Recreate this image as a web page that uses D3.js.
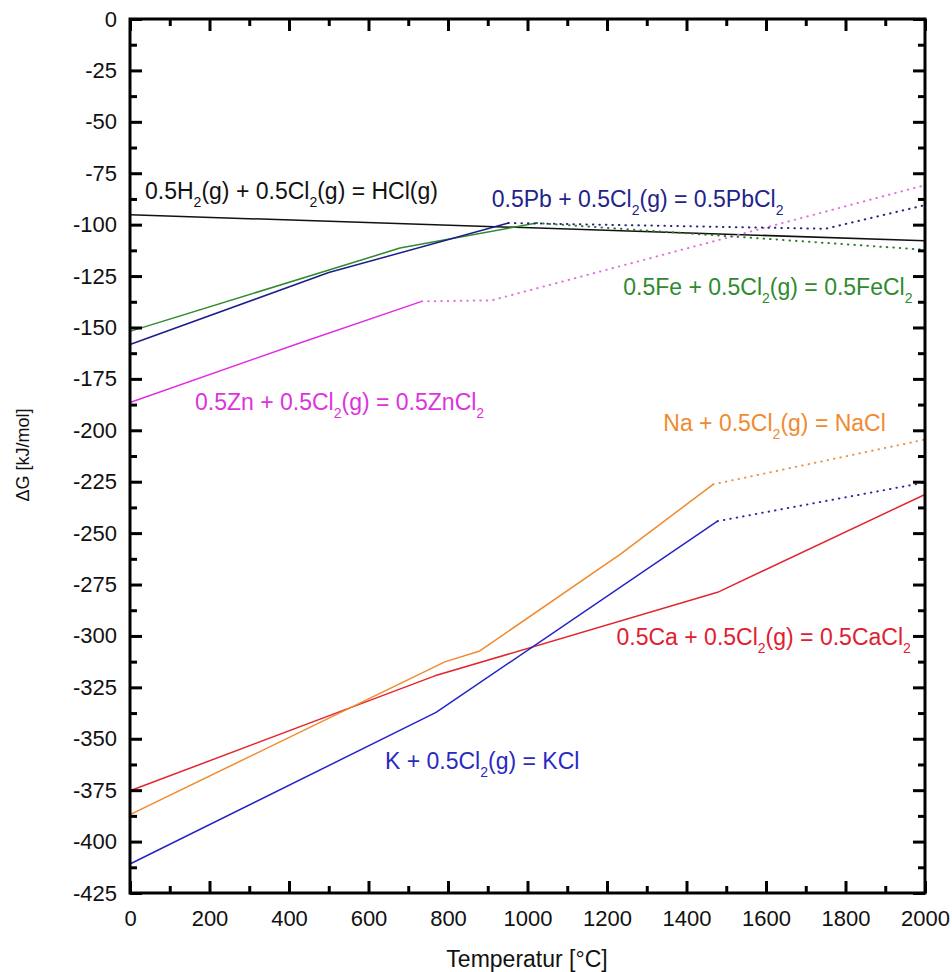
<!DOCTYPE html>
<html><head><meta charset="utf-8">
<script src="https://cdn.jsdelivr.net/npm/d3@7/dist/d3.min.js"></script>
<style>
body{margin:0;background:#fff}
svg{display:block}
text{font-family:"Liberation Sans",Arial,Helvetica,sans-serif}
</style>
</head><body>
<svg id="chart" width="952" height="972"></svg>
<script>
// ---- data ----
const xTickValues = [0,200,400,600,800,1000,1200,1400,1600,1800,2000];
const xTickLabels = ["0","200","400","600","800","1000","1200","1400","1600","1800","2000"];
const xMinorValues = [100,300,500,700,900,1100,1300,1500,1700,1900];
const yTickValues = [0,-25,-50,-75,-100,-125,-150,-175,-200,-225,-250,-275,-300,-325,-350,-375,-400,-425];
const yTickLabels = ["0","-25","-50","-75","-100","-125","-150","-175","-200","-225","-250","-275","-300","-325","-350","-375","-400","-425"];
const yMinorValues = [-12.5,-37.5,-62.5,-87.5,-112.5,-137.5,-162.5,-187.5,-212.5,-237.5,-262.5,-287.5,-312.5,-337.5,-362.5,-387.5,-412.5];

// HCl
const hclT = [0, 2000];
const hclG = [-95.2, -107.8];
// PbCl2
const pbT = [0, 500, 952];
const pbG = [-158.3, -123.3, -99.2];
const pbDotT = [952, 1750, 2000];
const pbDotG = [-99.2, -102.0, -90.5];
// FeCl2
const feT = [0, 679, 1023];
const feG = [-151.9, -111.4, -99.2];
const feDotT = [1023, 2000];
const feDotG = [-99.2, -112.2];
// ZnCl2
const znT = [0, 420, 734];
const znG = [-186.5, -158.0, -137.3];
const znDotT = [734, 910, 2000];
const znDotG = [-137.3, -136.8, -80.8];
// NaCl
const naT = [0, 792, 880, 1233, 1467];
const naG = [-386.9, -312.6, -307.3, -260.3, -226.3];
const naDotT = [1467, 2000];
const naDotG = [-226.3, -204.5];
// KCl
const kT = [0, 770, 1478];
const kG = [-410.9, -337.2, -244.2];
const kDotT = [1478, 2000];
const kDotG = [-244.2, -225.4];
// CaCl2
const caT = [0, 767, 1478, 2000];
const caG = [-375.3, -319.4, -278.8, -231.2];

// labels: segments [text, isSubscript], anchor in data coords
const labelHCl = [["0.5H",0],["2",1],["(g) + 0.5Cl",0],["2",1],["(g) = HCl(g)",0]];
const labelPb  = [["0.5Pb + 0.5Cl",0],["2",1],["(g) = 0.5PbCl",0],["2",1]];
const labelFe  = [["0.5Fe + 0.5Cl",0],["2",1],["(g) = 0.5FeCl",0],["2",1]];
const labelZn  = [["0.5Zn + 0.5Cl",0],["2",1],["(g) = 0.5ZnCl",0],["2",1]];
const labelNa  = [["Na + 0.5Cl",0],["2",1],["(g) = NaCl",0]];
const labelCa  = [["0.5Ca + 0.5Cl",0],["2",1],["(g) = 0.5CaCl",0],["2",1]];
const labelK   = [["K + 0.5Cl",0],["2",1],["(g) = KCl",0]];
const labelAnchorT = [37.7, 910, 1241, 163.5, 1341.6, 1224, 641.5];
const labelAnchorG = [-87.4, -91.2, -134.0, -189.9, -200.4, -304.5, -364.8];

// ---- chart ----
const svg = d3.select("#chart");
const mLeft = 130, mRight = 925, mTop = 19, mBottom = 893;
const x = d3.scaleLinear().domain([0, 2000]).range([mLeft, mRight]);
const y = d3.scaleLinear().domain([-425, 0]).range([mBottom, mTop]);

const colors = {
  hcl: "#111111", pb: "#1d1d8c", fe: "#2f8a2f", zn: "#e22ee2",
  na: "#f08a2c", k: "#2424c6", ca: "#e2262e"
};
const dotColors = {
  pb: "#25257a", fe: "#2f7a2f", zn: "#e070e0", na: "#e8944a", k: "#2a2aa8"
};

const line = d3.line().x(d => x(d[0])).y(d => y(d[1]));
function drawSeries(T, G, color, dotted) {
  const pts = T.map((t, i) => [t, G[i]]);
  svg.append("path").datum(pts)
    .attr("d", line)
    .attr("fill", "none")
    .attr("stroke", color)
    .attr("stroke-width", dotted ? 2 : 1.5)
    .attr("stroke-linejoin", "round")
    .attr("stroke-linecap", dotted ? "round" : "butt")
    .attr("stroke-dasharray", dotted ? "0.5,6" : null);
}

drawSeries(hclT, hclG, colors.hcl, false);
drawSeries(znT, znG, colors.zn, false);
drawSeries(znDotT, znDotG, dotColors.zn, true);
drawSeries(feT, feG, colors.fe, false);
drawSeries(feDotT, feDotG, dotColors.fe, true);
drawSeries(pbT, pbG, colors.pb, false);
drawSeries(pbDotT, pbDotG, dotColors.pb, true);
drawSeries(caT, caG, colors.ca, false);
drawSeries(naT, naG, colors.na, false);
drawSeries(naDotT, naDotG, dotColors.na, true);
drawSeries(kT, kG, colors.k, false);
drawSeries(kDotT, kDotG, dotColors.k, true);

// ---- axes ----
function styleAxis(g, w) {
  g.select(".domain").remove();
  g.selectAll(".tick line").attr("stroke", "#000").attr("stroke-width", w);
  g.selectAll("text").attr("fill", "#111").style("font-size", "22px");
}
const gB = svg.append("g").attr("transform", `translate(0,${mBottom})`)
  .call(d3.axisBottom(x).tickValues(xTickValues).tickSizeInner(-12).tickSizeOuter(0)
    .tickPadding(17).tickFormat((d, i) => xTickLabels[i]));
styleAxis(gB, 3);
const gBm = svg.append("g").attr("transform", `translate(0,${mBottom})`)
  .call(d3.axisBottom(x).tickValues(xMinorValues).tickSizeInner(-7).tickSizeOuter(0).tickFormat(""));
styleAxis(gBm, 3);
const gT = svg.append("g").attr("transform", `translate(0,${mTop})`)
  .call(d3.axisTop(x).tickValues(xTickValues).tickSizeInner(-12).tickSizeOuter(0).tickFormat(""));
styleAxis(gT, 3);
const gTm = svg.append("g").attr("transform", `translate(0,${mTop})`)
  .call(d3.axisTop(x).tickValues(xMinorValues).tickSizeInner(-7).tickSizeOuter(0).tickFormat(""));
styleAxis(gTm, 3);
const gL = svg.append("g").attr("transform", `translate(${mLeft},0)`)
  .call(d3.axisLeft(y).tickValues(yTickValues).tickSizeInner(-12).tickSizeOuter(0)
    .tickPadding(13).tickFormat((d, i) => yTickLabels[i]));
styleAxis(gL, 3);
const gLm = svg.append("g").attr("transform", `translate(${mLeft},0)`)
  .call(d3.axisLeft(y).tickValues(yMinorValues).tickSizeInner(-7).tickSizeOuter(0).tickFormat(""));
styleAxis(gLm, 3);
const gR = svg.append("g").attr("transform", `translate(${mRight},0)`)
  .call(d3.axisRight(y).tickValues(yTickValues).tickSizeInner(-12).tickSizeOuter(0).tickFormat(""));
styleAxis(gR, 3);
const gRm = svg.append("g").attr("transform", `translate(${mRight},0)`)
  .call(d3.axisRight(y).tickValues(yMinorValues).tickSizeInner(-7).tickSizeOuter(0).tickFormat(""));
styleAxis(gRm, 3);

svg.append("rect").attr("x", mLeft).attr("y", mTop)
  .attr("width", mRight - mLeft).attr("height", mBottom - mTop)
  .attr("fill", "none").attr("stroke", "#000").attr("stroke-width", 3);

svg.append("text").attr("x", 527).attr("y", 967)
  .attr("text-anchor", "middle").style("font-size", "23px").attr("fill", "#111")
  .text("Temperatur [°C]");
svg.append("text").attr("transform", `translate(29,455) rotate(-90)`)
  .attr("text-anchor", "middle").style("font-size", "18px").attr("fill", "#111")
  .text("ΔG [kJ/mol]");

const labels = [
  [labelHCl, colors.hcl], [labelPb, "#23238a"], [labelFe, "#2f8a2f"], [labelZn, "#dd33dd"],
  [labelNa, "#f08a30"], [labelCa, "#e02030"], [labelK, "#2a2abf"]
];
labels.forEach(([segs, col], i) => {
  const t = svg.append("text")
    .attr("x", x(labelAnchorT[i])).attr("y", y(labelAnchorG[i]))
    .attr("fill", col).style("font-size", "23px");
  let down = false;
  segs.forEach(([s, sub]) => {
    const ts = t.append("tspan").text(s);
    if (sub && !down) { ts.attr("dy", 8).style("font-size", "14px"); down = true; }
    else if (!sub && down) { ts.attr("dy", -8); down = false; }
  });
});
</script>
</body></html>
